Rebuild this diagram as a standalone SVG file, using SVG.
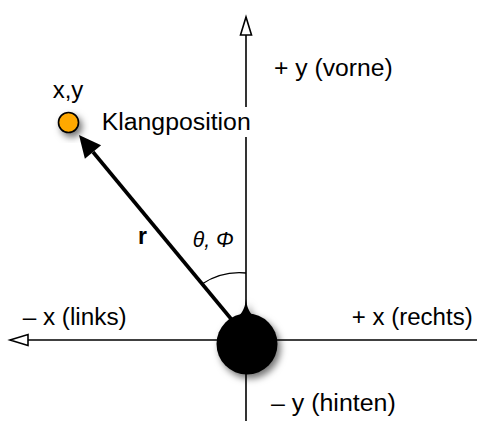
<svg xmlns="http://www.w3.org/2000/svg" width="477" height="421" viewBox="0 0 477 421">
  <defs>
    <style>
      text { font-family: "Liberation Sans", Arial, Helvetica, sans-serif; font-size: 23px; fill: #000; }
      .axis { stroke: #000; stroke-width: 1.6; fill: none; }
      .vec { stroke: #000; stroke-width: 3.6; fill: none; }
      .arc { stroke: #000; stroke-width: 1.4; fill: none; }
    </style>
    <marker id="open" markerUnits="userSpaceOnUse" markerWidth="20" markerHeight="14" refX="18" refY="6" orient="auto" overflow="visible">
      <path d="M0,0.5 L18,6 L0,11.5 Z" fill="#fff" stroke="#000" stroke-width="1.6" stroke-linejoin="miter"/>
    </marker>
    <marker id="solid" markerUnits="userSpaceOnUse" markerWidth="24" markerHeight="22" refX="0" refY="10.5" orient="auto" overflow="visible">
      <path d="M0,0 L22,10.5 L0,21 Z" fill="#000"/>
    </marker>
    <filter id="shadow" x="-50%" y="-50%" width="200%" height="200%">
      <feDropShadow dx="3" dy="4" stdDeviation="3.5" flood-color="#000" flood-opacity="0.55"/>
    </filter>
  </defs>

  <g id="connectors">
    <line class="axis" x1="246" y1="421" x2="246" y2="137"/>
    <line class="axis" x1="246" y1="107" x2="246" y2="17" marker-end="url(#open)"/>
    <line class="axis" x1="477" y1="340" x2="10" y2="340" marker-end="url(#open)"/>
    <path id="angle-arc" class="arc" d="M246,273 A68,68 0 0 0 202,284"/>
    <line id="r-vector" class="vec" x1="232" y1="320" x2="93" y2="152" marker-end="url(#solid)"/>
  </g>

  <g id="listener" filter="url(#shadow)">
    <circle cx="247" cy="344" r="30.5" fill="#000"/>
    <path d="M246,299 C246.8,306 248.5,311 253,316 L239,316 C243.5,311 245.2,306 246,299 Z" fill="#000"/>
  </g>

  <g id="source">
    <circle cx="68.5" cy="122.5" r="10" fill="#FFA800" stroke="#000" stroke-width="1.6" filter="url(#shadow)"/>
    <text x="52.7" y="98" textLength="30.6" lengthAdjust="spacingAndGlyphs">x,y</text>
    <text x="101.7" y="130" textLength="149" lengthAdjust="spacingAndGlyphs">Klangposition</text>
  </g>

  <g id="labels">
    <text x="274" y="76" textLength="118.7" lengthAdjust="spacingAndGlyphs">+ y (vorne)</text>
    <text x="138" y="243.5" font-weight="bold">r</text>
    <text x="192.7" y="247" font-style="italic" textLength="41" lengthAdjust="spacingAndGlyphs">θ, Φ</text>
    <text x="22.7" y="325" textLength="104" lengthAdjust="spacingAndGlyphs">– x (links)</text>
    <text x="351.7" y="324.5" textLength="121" lengthAdjust="spacingAndGlyphs">+ x (rechts)</text>
    <text x="271" y="411" textLength="124.7" lengthAdjust="spacingAndGlyphs">– y (hinten)</text>
  </g>
</svg>
